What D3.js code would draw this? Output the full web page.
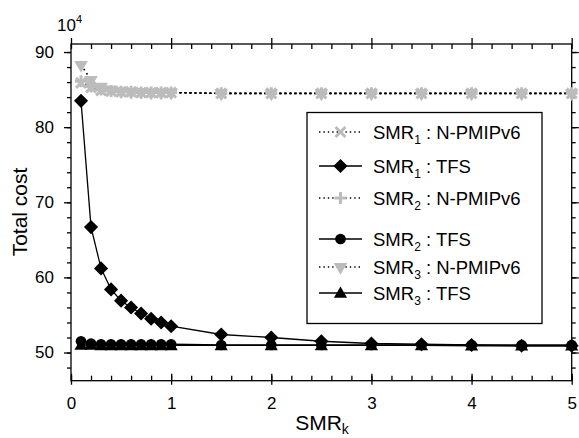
<!DOCTYPE html>
<html lang="en">
<head>
  <meta charset="UTF-8">
  <title>Total cost vs SMR_k</title>
  <style>
    body { margin: 0; background: #fff; }
    svg text { font-family: "Liberation Sans", Arial, sans-serif; fill: #000; }
  </style>
</head>
<body>
  <script src="https://cdn.jsdelivr.net/npm/d3@7"></script>
  <script>
    // data (values in units of 10^4)
    const smrK = [0.1, 0.2, 0.3, 0.4, 0.5, 0.6, 0.7, 0.8, 0.9, 1.0, 1.5, 2, 2.5, 3, 3.5, 4, 4.5, 5];
    const smr1Npmip = [85.9, 85.3, 84.9, 84.8, 84.7, 84.7, 84.6, 84.6, 84.6, 84.6, 84.5, 84.5, 84.5, 84.5, 84.5, 84.5, 84.5, 84.5];
    const smr1Tfs = [83.5, 66.7, 61.2, 58.4, 56.9, 56.0, 55.2, 54.5, 54.0, 53.5, 52.4, 52.0, 51.5, 51.2, 51.1, 51.0, 50.9, 50.9];
    const smr2Npmip = [86.1, 85.4, 85.0, 84.8, 84.7, 84.7, 84.6, 84.6, 84.6, 84.6, 84.5, 84.5, 84.5, 84.5, 84.5, 84.5, 84.5, 84.5];
    const smr2Tfs = [51.5, 51.2, 51.1, 51.1, 51.1, 51.1, 51.1, 51.1, 51.1, 51.1, 51.0, 51.0, 51.0, 51.0, 51.0, 51.0, 51.0, 51.0];
    const smr3Npmip = [88.3, 86.3, 85.4, 85.0, 84.8, 84.7, 84.7, 84.6, 84.6, 84.6, 84.5, 84.5, 84.5, 84.5, 84.5, 84.5, 84.5, 84.5];
    const smr3Tfs = [51.0, 51.0, 50.95, 50.95, 50.95, 50.95, 50.95, 50.95, 50.95, 50.95, 50.95, 50.95, 50.95, 50.95, 50.95, 50.9, 50.9, 50.9];

    const xTicks = [0, 1, 2, 3, 4, 5];
    const yTicks = [50, 60, 70, 80, 90];
    const xMinor = d3.range(0, 5.01, 0.2);
    const yMinor = d3.range(48, 90.5, 2);

    const series = [
      { sub: '1', name: 'N-PMIPv6', values: smr1Npmip, marker: 'x', dotted: true },
      { sub: '1', name: 'TFS', values: smr1Tfs, marker: 'diamond', dotted: false },
      { sub: '2', name: 'N-PMIPv6', values: smr2Npmip, marker: 'plus', dotted: true },
      { sub: '2', name: 'TFS', values: smr2Tfs, marker: 'circle', dotted: false },
      { sub: '3', name: 'N-PMIPv6', values: smr3Npmip, marker: 'down', dotted: true },
      { sub: '3', name: 'TFS', values: smr3Tfs, marker: 'up', dotted: false },
    ];

    const W = 579, H = 438;
    const mL = 71, mR = 571.7, mT = 44, mB = 380.7;
    const grey = '#bcbcbc';

    const svg = d3.select('body').append('svg').attr('width', W).attr('height', H);

    const x = d3.scaleLinear().domain([0, 5]).range([mL, mR]);
    const y = d3.scaleLinear().domain([46.25, 91.07]).range([mB, mT]);

    // frame
    svg.append('rect')
      .attr('x', mL).attr('y', mT)
      .attr('width', mR - mL).attr('height', mB - mT)
      .attr('fill', 'none').attr('stroke', '#000').attr('stroke-width', 1.3);

    function styleAxis(g) {
      g.select('.domain').remove();
      g.selectAll('line').attr('stroke', '#000').attr('stroke-width', 1.3);
      g.selectAll('text').attr('font-size', 17).attr('font-family', '"Liberation Sans", Arial, sans-serif');
    }

    // bottom axis: minor inward, major crossing
    svg.append('g').attr('transform', `translate(0,${mB})`)
      .call(d3.axisBottom(x).tickValues(xMinor).tickSize(-5).tickFormat(''))
      .call(styleAxis);
    const bx = svg.append('g').attr('transform', `translate(0,${mB})`)
      .call(d3.axisBottom(x).tickValues(xTicks).tickSize(4).tickPadding(12).tickFormat(d3.format('d')))
      .call(styleAxis);
    bx.selectAll('.tick line').attr('y1', -7).attr('y2', 4);

    // top axis
    svg.append('g').attr('transform', `translate(0,${mT})`)
      .call(d3.axisTop(x).tickValues(xMinor).tickSize(-5).tickFormat(''))
      .call(styleAxis);
    svg.append('g').attr('transform', `translate(0,${mT})`)
      .call(d3.axisTop(x).tickValues(xTicks).tickSize(6).tickFormat(''))
      .call(styleAxis);

    // left axis: outward ticks
    svg.append('g').attr('transform', `translate(${mL},0)`)
      .call(d3.axisLeft(y).tickValues(yMinor).tickSize(4).tickFormat(''))
      .call(styleAxis);
    svg.append('g').attr('transform', `translate(${mL},0)`)
      .call(d3.axisLeft(y).tickValues(yTicks).tickSize(7).tickPadding(10).tickFormat(d3.format('d')))
      .call(styleAxis);

    // right axis: outward ticks
    svg.append('g').attr('transform', `translate(${mR},0)`)
      .call(d3.axisRight(y).tickValues(yMinor).tickSize(4).tickFormat(''))
      .call(styleAxis);
    svg.append('g').attr('transform', `translate(${mR},0)`)
      .call(d3.axisRight(y).tickValues(yTicks).tickSize(7).tickFormat(''))
      .call(styleAxis);

    // axis titles
    svg.append('text')
      .attr('transform', 'translate(27,212) rotate(-90)')
      .attr('text-anchor', 'middle').attr('font-size', 21)
      .text('Total cost');

    const xl = svg.append('text').attr('x', 322).attr('y', 430)
      .attr('text-anchor', 'middle').attr('font-size', 21);
    xl.append('tspan').text('SMR');
    xl.append('tspan').attr('font-size', 14).attr('dy', 4).text('k');

    const ex = svg.append('text').attr('x', 57).attr('y', 31).attr('font-size', 17);
    ex.append('tspan').text('10');
    ex.append('tspan').attr('font-size', 11).attr('dy', -8).text('4');

    // marker drawing
    function drawMarker(g, type, cx, cy) {
      if (type === 'x') {
        const r = 5;
        g.append('path')
          .attr('d', `M${cx - r},${cy - r}L${cx + r},${cy + r}M${cx - r},${cy + r}L${cx + r},${cy - r}`)
          .attr('stroke', grey).attr('stroke-width', 3).attr('fill', 'none');
      } else if (type === 'plus') {
        const r = 6;
        g.append('path')
          .attr('d', `M${cx - r},${cy}L${cx + r},${cy}M${cx},${cy - r}L${cx},${cy + r}`)
          .attr('stroke', grey).attr('stroke-width', 3).attr('fill', 'none');
      } else if (type === 'down') {
        g.append('path')
          .attr('d', d3.symbol().type(d3.symbolTriangle).size(80)())
          .attr('transform', `translate(${cx},${cy}) rotate(180)`)
          .attr('fill', grey);
      } else if (type === 'diamond') {
        g.append('path')
          .attr('d', d3.symbol().type(d3.symbolSquare).size(100)())
          .attr('transform', `translate(${cx},${cy}) rotate(45)`)
          .attr('fill', '#000');
      } else if (type === 'circle') {
        g.append('path')
          .attr('d', d3.symbol().type(d3.symbolCircle).size(90)())
          .attr('transform', `translate(${cx},${cy})`)
          .attr('fill', '#000');
      } else if (type === 'up') {
        g.append('path')
          .attr('d', d3.symbol().type(d3.symbolTriangle).size(75)())
          .attr('transform', `translate(${cx},${cy + 1})`)
          .attr('fill', '#000');
      }
    }

    const line = d3.line().x((d, i) => x(smrK[i])).y(d => y(d));

    // lines first
    const plot = svg.append('g');
    series.forEach(s => {
      plot.append('path')
        .attr('d', line(s.values))
        .attr('fill', 'none').attr('stroke', '#000')
        .attr('stroke-width', s.dotted ? 1.6 : 1.3)
        .attr('stroke-dasharray', s.dotted ? '1.6,3.4' : null);
    });
    // then markers (black first, grey on top)
    const order = [1, 3, 5, 0, 2, 4];
    order.forEach(k => {
      const s = series[k];
      const g = plot.append('g');
      s.values.forEach((v, i) => drawMarker(g, s.marker, x(smrK[i]), y(v)));
    });

    // legend
    const lg = svg.append('g');
    lg.append('rect').attr('x', 307).attr('y', 112.5).attr('width', 235).attr('height', 211)
      .attr('fill', '#fff').attr('stroke', '#000').attr('stroke-width', 1.3);
    const rowY = [132, 166, 198, 239, 267, 293];
    series.forEach((s, i) => {
      const yy = rowY[i];
      lg.append('line').attr('x1', 319).attr('x2', 362).attr('y1', yy).attr('y2', yy)
        .attr('stroke', '#000')
        .attr('stroke-width', s.dotted ? 1.4 : 1.3)
        .attr('stroke-dasharray', s.dotted ? '1.4,3' : null);
      drawMarker(lg, s.marker, 340.5, yy);
      const t = lg.append('text').attr('x', 373).attr('y', yy + 7).attr('font-size', 18.5);
      t.append('tspan').text('SMR');
      t.append('tspan').attr('font-size', 12).attr('dy', 5).text(s.sub);
      t.append('tspan').attr('dy', -5).text(' : ' + s.name);
    });
  </script>
</body>
</html>
